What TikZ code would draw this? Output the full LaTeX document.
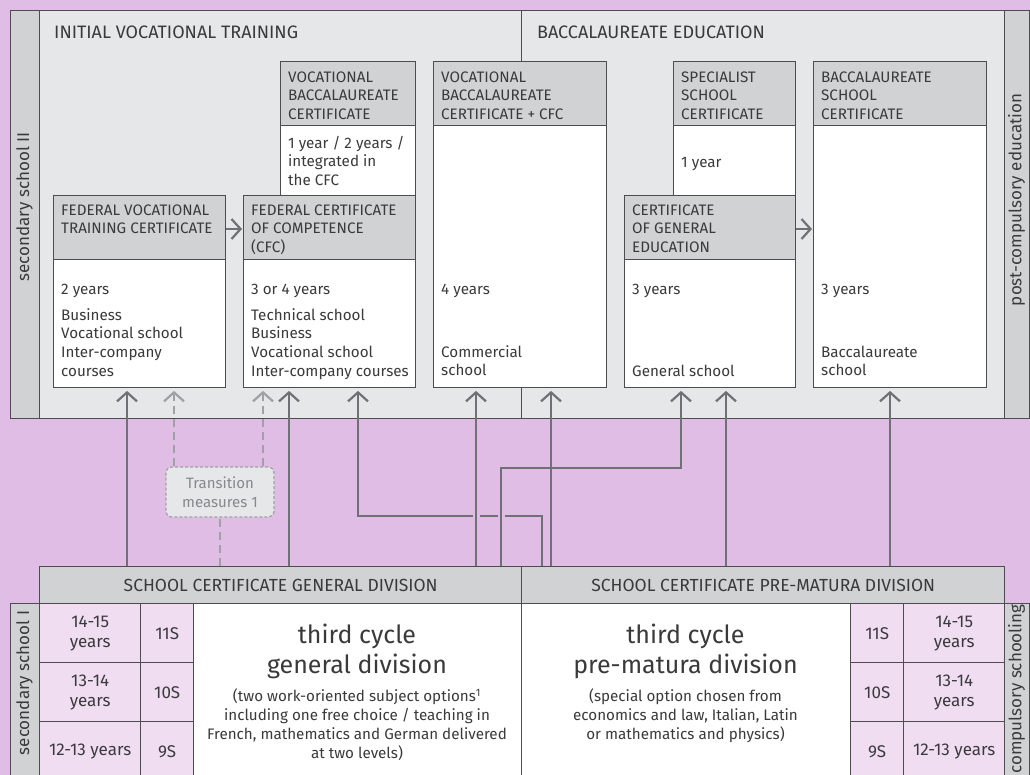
\documentclass[tikz,border=0pt]{standalone}
\usepackage{fontspec}
\setmainfont{Fira Sans}
\usetikzlibrary{arrows.meta}
\definecolor{bgp}{RGB}{224,189,228}
\definecolor{panel}{RGB}{230,231,232}
\definecolor{hgray}{RGB}{209,210,212}
\definecolor{linec}{RGB}{77,77,79}
\definecolor{arrc}{RGB}{112,113,116}
\definecolor{dashc}{RGB}{160,161,164}
\definecolor{cellc}{RGB}{240,221,242}
\definecolor{txtc}{RGB}{58,58,60}
\definecolor{transt}{RGB}{135,136,139}
\newcommand{\fBox}{\fontsize{15.2}{18.6}\selectfont}
\newcommand{\fSec}{\fontsize{18}{22}\selectfont}
\newcommand{\fBar}{\fontsize{17.5}{20}\selectfont}
\newcommand{\fSide}{\fontsize{17}{20}\selectfont}
\newcommand{\fAge}{\fontsize{17}{20}\selectfont}
\newcommand{\fTitle}{\fontsize{25}{30}\selectfont}
\newcommand{\fSub}{\fontsize{15.2}{19}\selectfont}
\newcommand{\fTrans}{\fontsize{15}{19}\selectfont}
\tikzset{
  rbox/.style={draw=linec, line width=1.4pt, inner sep=0pt, anchor=north west},
  hdr/.style={rbox, fill=hgray},
  bodyb/.style={rbox, fill=white},
  cellb/.style={rbox, fill=cellc, align=center, font=\fAge},
  boxtxt/.style={anchor=north west, inner sep=0pt, align=left, font=\fBox},
  sec/.style={anchor=base west, inner sep=0pt, font=\fSec},
  sidelbl/.style={rotate=90, inner sep=0pt, font=\fSide},
  arr/.style={draw=arrc, line width=2.2pt, -{Straight Barb[length=9pt,width=20pt]}, shorten >=2.5pt},
  darr/.style={draw=dashc, line width=2.2pt, dash pattern=on 8pt off 5pt, -{Straight Barb[length=9pt,width=20pt]}, shorten >=2.5pt},
  dline/.style={draw=dashc, line width=2.2pt, dash pattern=on 8pt off 5pt},
  gap/.style={draw=bgp, line width=4pt},
}
\begin{document}
\begin{tikzpicture}[x=1pt,y=-1pt,text=txtc]
\fill[bgp] (0,0) rectangle (1030,775);
\useasboundingbox (0,0) rectangle (1030,775);

% ---------- upper panel ----------
\node[rbox, fill=hgray, minimum width=29pt, minimum height=408pt] (sideL) at (10,10) {};
\node[rbox, fill=panel, minimum width=965pt, minimum height=408pt] (panel) at (39,10) {};
\node[rbox, fill=hgray, minimum width=25pt, minimum height=408pt] (sideR) at (1004,10) {};
\coordinate (div) at (521,0);
\draw[linec, line width=1pt] (panel.north -| div) -- (panel.south -| div);

\node[sidelbl] (lblS2) at (24.5,207) {secondary school II};
\node[sidelbl] (lblPC) at (1016.5,200) {post-compulsory education};

\node[sec] (ivt) at (54,39) {INITIAL VOCATIONAL TRAINING};
\node[sec] (bed) at (537,39) {BACCALAUREATE EDUCATION};

% boxes
\node[hdr, minimum width=172pt, minimum height=64pt] (fvtcH) at (53,195) {};
\node[bodyb, minimum width=172pt, minimum height=128pt] (fvtcB) at (53,259) {};
\node[hdr, minimum width=135pt, minimum height=64pt] (vbcH) at (280,61) {};
\node[bodyb, minimum width=135pt, minimum height=70pt] (vbcB) at (280,125) {};
\node[hdr, minimum width=172pt, minimum height=64pt] (fccH) at (243,195) {};
\node[bodyb, minimum width=172pt, minimum height=128pt] (fccB) at (243,259) {};
\node[hdr, minimum width=173pt, minimum height=64pt] (vcH) at (433,61) {};
\node[bodyb, minimum width=173pt, minimum height=262pt] (vcB) at (433,125) {};
\node[hdr, minimum width=122pt, minimum height=64pt] (sscH) at (673,61) {};
\node[bodyb, minimum width=122pt, minimum height=70pt] (sscB) at (673,125) {};
\node[hdr, minimum width=171pt, minimum height=64pt] (cgeH) at (624,195) {};
\node[bodyb, minimum width=171pt, minimum height=128pt] (cgeB) at (624,259) {};
\node[hdr, minimum width=173pt, minimum height=64pt] (bscH) at (813,61) {};
\node[bodyb, minimum width=173pt, minimum height=262pt] (bscB) at (813,125) {};

% box texts
\node[boxtxt] (t1) at (288,69) {\strut VOCATIONAL\\BACCALAUREATE\\CERTIFICATE};
\node[boxtxt] (t2) at (288,135) {\strut 1 year / 2 years /\\integrated in\\the CFC};
\node[boxtxt] (t3) at (441,69) {\strut VOCATIONAL\\BACCALAUREATE\\CERTIFICATE + CFC};
\node[boxtxt] (t4) at (681,69) {\strut SPECIALIST\\SCHOOL\\CERTIFICATE};
\node[boxtxt] (t5) at (681,154) {\strut 1 year};
\node[boxtxt] (t6) at (821,69) {\strut BACCALAUREATE\\SCHOOL\\CERTIFICATE};
\node[boxtxt] (t7) at (61,202) {\strut FEDERAL VOCATIONAL\\TRAINING CERTIFICATE};
\node[boxtxt] (t8) at (251,202) {\strut FEDERAL CERTIFICATE\\OF COMPETENCE\\(CFC)};
\node[boxtxt] (t9) at (632,202) {\strut CERTIFICATE\\OF GENERAL\\EDUCATION};
\node[boxtxt] (y1) at (61,281) {\strut 2 years};
\node[boxtxt] (y2) at (251,281) {\strut 3 or 4 years};
\node[boxtxt] (y3) at (441,281) {\strut 4 years};
\node[boxtxt] (y4) at (632,281) {\strut 3 years};
\node[boxtxt] (y5) at (821,281) {\strut 3 years};
\node[boxtxt] (s1) at (61,307) {\strut Business\\Vocational school\\Inter-company\\courses};
\node[boxtxt] (s2) at (251,307) {\strut Technical school\\Business\\Vocational school\\Inter-company courses};
\node[boxtxt] (s3) at (441,344) {\strut Commercial\\school};
\node[boxtxt] (s4) at (632,363) {\strut General school};
\node[boxtxt] (s5) at (821,344) {\strut Baccalaureate\\school};

% horizontal arrows
\coordinate (ya) at (0,229);
\draw[arr, shorten >=1pt] (fvtcH.east |- ya) -- (fccH.west |- ya);
\draw[arr, shorten >=1pt] (cgeH.east |- ya) -- (bscB.west |- ya);

% ---------- lower part ----------
\node[hdr, minimum width=482pt, minimum height=37pt, font=\fBar] (genbar) at (39,566) {SCHOOL CERTIFICATE GENERAL DIVISION};
\node[hdr, minimum width=483pt, minimum height=37pt, font=\fBar] (pmbar) at (521,566) {SCHOOL CERTIFICATE PRE-MATURA DIVISION};

\node[rbox, fill=hgray, minimum width=29pt, minimum height=180pt] (sideLB) at (10,603) {};
\node[rbox, fill=hgray, minimum width=25pt, minimum height=180pt] (sideRB) at (1004,603) {};
\node[sidelbl] (lblS1) at (24.5,683) {secondary school I};
\node[sidelbl] (lblCS) at (1016.5,689) {compulsory schooling};

\node[cellb, minimum width=101pt, minimum height=59pt] (aL1) at (39,603) {14-15\\years};
\node[cellb, minimum width=101pt, minimum height=59pt] (aL2) at (39,662) {13-14\\years};
\node[cellb, minimum width=101pt, minimum height=60pt] (aL3) at (39,721) {12-13 years};
\node[cellb, minimum width=53pt, minimum height=59pt] (gL1) at (140,603) {11S};
\node[cellb, minimum width=53pt, minimum height=59pt] (gL2) at (140,662) {10S};
\node[cellb, minimum width=53pt, minimum height=60pt] (gL3) at (140,721) {9S};
\node[bodyb, minimum width=328pt, minimum height=178pt] (bigL) at (193,603) {};
\node[bodyb, minimum width=329pt, minimum height=178pt] (bigR) at (521,603) {};
\node[cellb, minimum width=53pt, minimum height=59pt] (gR1) at (850,603) {11S};
\node[cellb, minimum width=53pt, minimum height=59pt] (gR2) at (850,662) {10S};
\node[cellb, minimum width=53pt, minimum height=60pt] (gR3) at (850,721) {9S};
\node[cellb, minimum width=101pt, minimum height=59pt] (aR1) at (903,603) {14-15\\years};
\node[cellb, minimum width=101pt, minimum height=59pt] (aR2) at (903,662) {13-14\\years};
\node[cellb, minimum width=101pt, minimum height=60pt] (aR3) at (903,721) {12-13 years};

\node[anchor=north, align=center, inner sep=0pt, font=\fTitle] (titL) at (357,622) {\strut third cycle\\general division};
\node[anchor=north, align=center, inner sep=0pt, font=\fSub] (subL) at (357,688) {\strut (two work-oriented subject options\textsuperscript{1}\\including one free choice / teaching in\\French, mathematics and German delivered\\at two levels)};
\node[anchor=north, align=center, inner sep=0pt, font=\fTitle] (titR) at (685.5,622) {\strut third cycle\\pre-matura division};
\node[anchor=north, align=center, inner sep=0pt, font=\fSub] (subR) at (685.5,688) {\strut (special option chosen from\\economics and law, Italian, Latin\\or mathematics and physics)};

% transition measures
\node[draw=dashc, fill=panel, line width=1.2pt, dash pattern=on 3pt off 2pt, rounded corners=6pt,
      minimum width=108pt, minimum height=50pt, inner sep=0pt, align=center, font=\fTrans, text=transt] (trans) at (220,492) {Transition\\measures 1};

% ---------- vertical arrows ----------
\coordinate (cA) at (127,0);
\coordinate (cB) at (174,0);
\coordinate (cC) at (263,0);
\coordinate (cE) at (289,0);
\coordinate (cF) at (358,0);
\coordinate (cG) at (476,0);
\coordinate (cH) at (501,0);
\coordinate (cI) at (542,0);
\coordinate (cJ) at (551,0);
\coordinate (cK) at (681,0);
\coordinate (cL) at (726,0);
\coordinate (cM) at (890,0);
\coordinate (h1) at (0,516);
\coordinate (h2) at (0,468);

\draw[arr] (genbar.north -| cA) -- (cA |- fvtcB.south);
\draw[darr] (trans.north -| cB) -- (cB |- fvtcB.south);
\draw[darr] (trans.north -| cC) -- (cC |- fccB.south);
\draw[dline] (genbar.north -| trans.south) -- (trans.south);
\draw[arr] (genbar.north -| cE) -- (cE |- fccB.south);
\draw[arr] (genbar.north -| cI) -- (cI |- h1) -- (cF |- h1) -- (cF |- fccB.south);
\draw[gap] ([xshift=-3.5pt]cG |- h1) -- ([xshift=3.5pt]cG |- h1);
\draw[gap] ([xshift=-3.5pt]cH |- h1) -- ([xshift=3.5pt]cH |- h1);
\draw[arr] (genbar.north -| cG) -- (cG |- vcB.south);
\draw[arr] (genbar.north -| cH) -- (cH |- h2) -- (cK |- h2) -- (cK |- cgeB.south);
\draw[arr] (pmbar.north -| cJ) -- (cJ |- vcB.south);
\draw[arr] (pmbar.north -| cL) -- (cL |- cgeB.south);
\draw[arr] (pmbar.north -| cM) -- (cM |- bscB.south);
\end{tikzpicture}
\end{document}
